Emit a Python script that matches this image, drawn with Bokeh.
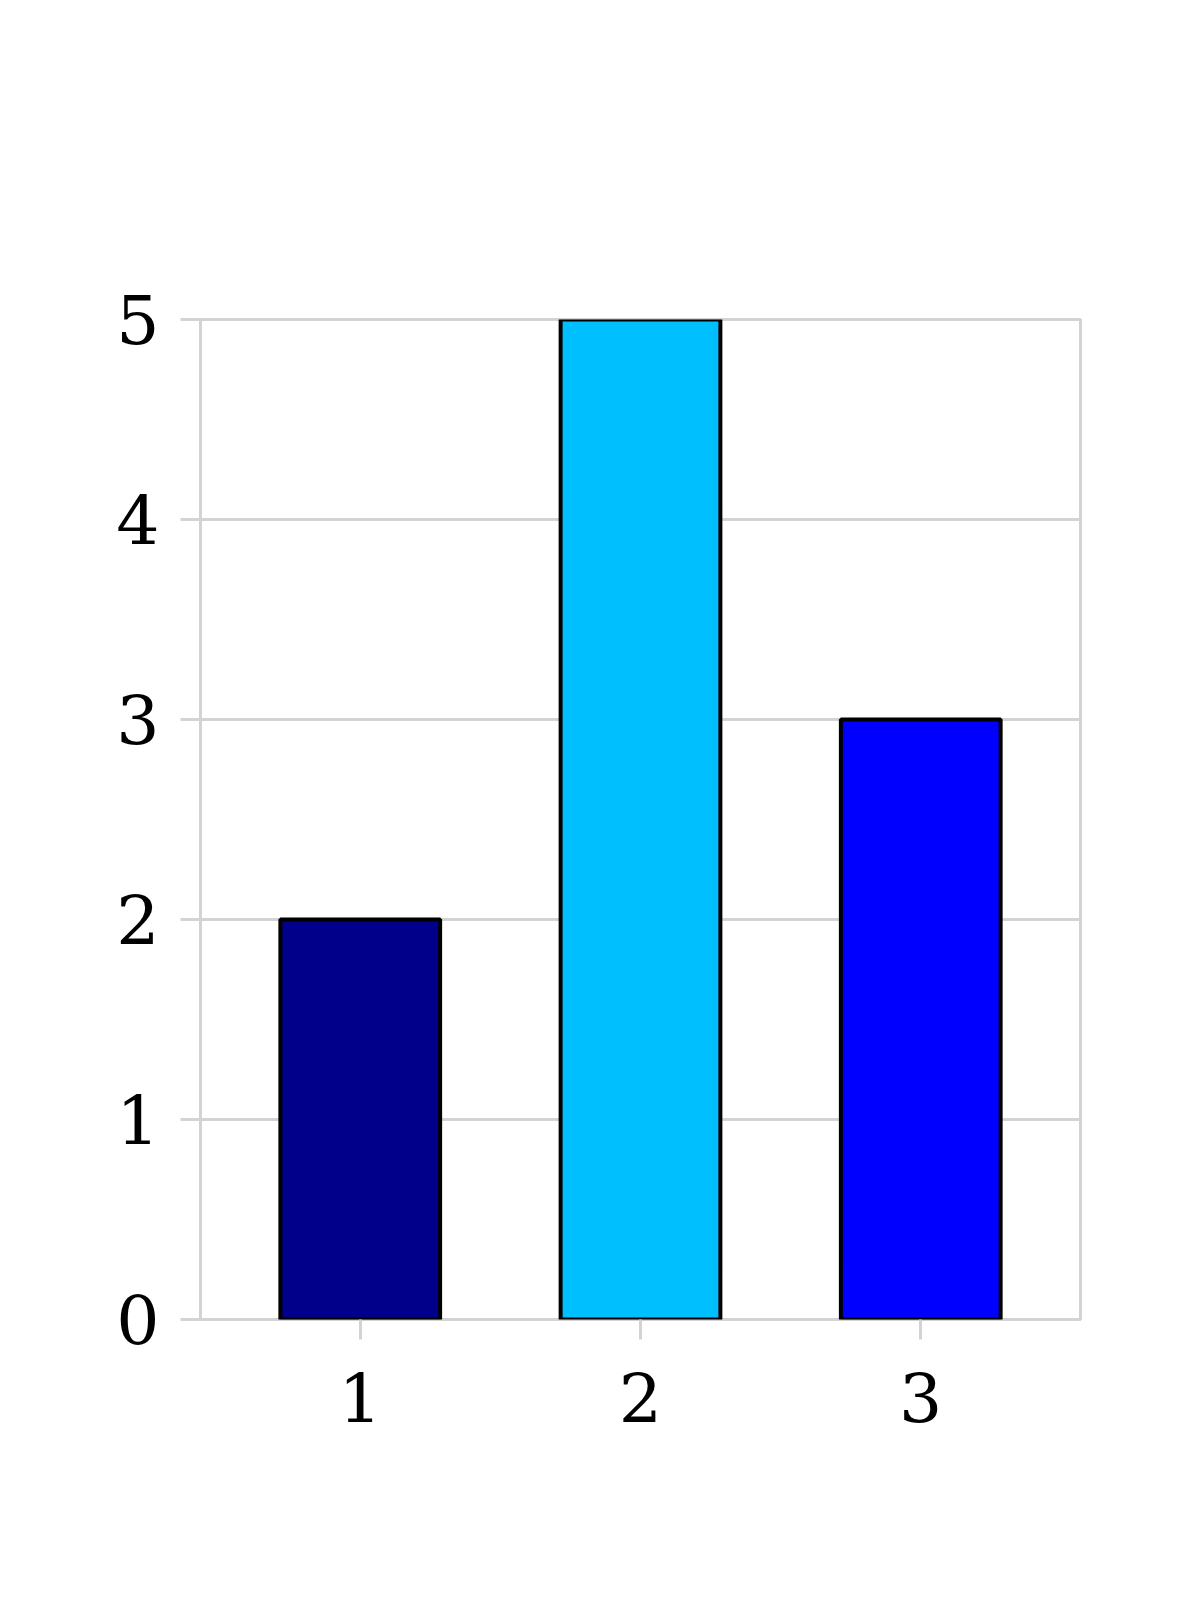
from bokeh.plotting import figure
from bokeh.models import Range1d, FixedTicker
from bokeh.embed import file_html
from bokeh.resources import INLINE

categories = [1, 2, 3]
values = [2, 5, 3]
colors = ["darkblue", "deepskyblue", "blue"]
y_ticks = [0, 1, 2, 3, 4, 5]

p = figure(width=1184, height=1584, output_backend="svg", toolbar_location=None,
           x_range=Range1d(0.43, 3.57), y_range=Range1d(0, 5),
           min_border_left=200, min_border_right=104,
           min_border_top=319, min_border_bottom=265)

p.vbar(x=categories, top=values, bottom=0, width=0.57, fill_color=colors,
       line_color="black", line_width=4)

p.xaxis.ticker = FixedTicker(ticks=categories)
p.yaxis.ticker = FixedTicker(ticks=y_ticks)
p.xgrid.grid_line_color = None
p.ygrid.grid_line_color = "lightgray"
p.ygrid.grid_line_width = 3
p.outline_line_color = "lightgray"
p.outline_line_width = 3

for ax in (p.xaxis, p.yaxis):
    ax.axis_line_color = None
    ax.major_tick_line_color = "lightgray"
    ax.major_tick_line_width = 3
    ax.major_tick_out = 20
    ax.major_tick_in = 0
    ax.minor_tick_line_color = None
    ax.major_label_text_font = "DejaVu Serif"
    ax.major_label_text_font_size = "68px"
    ax.major_label_text_color = "black"

p.yaxis.major_label_standoff = 21
p.xaxis.major_label_standoff = 33

open("out.html", "w").write(file_html(p, INLINE))
